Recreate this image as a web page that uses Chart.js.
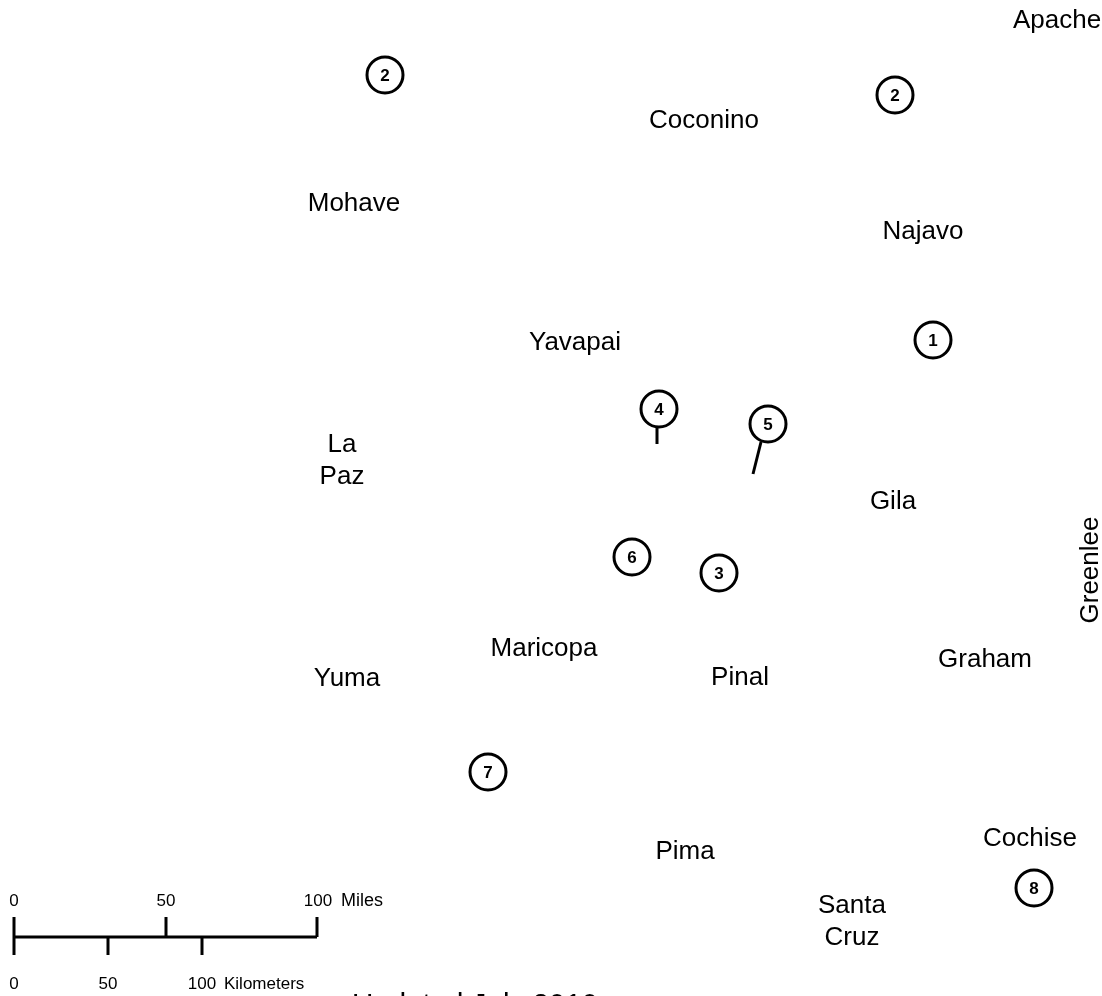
<!DOCTYPE html>
<html>
<head>
<meta charset="utf-8">
<title>Arizona counties</title>
<script src="https://cdn.jsdelivr.net/npm/chart.js@4"></script>
<style>
    html, body { margin: 0; padding: 0; background: #fff; overflow: hidden; }
    canvas { display: block; }
</style>
</head>
<body>
<canvas id="mapChart" width="1102" height="996"></canvas>
<script>
// County names
const countyNames = ['Apache', 'Coconino', 'Mohave', 'Najavo', 'Yavapai', 'La', 'Paz', 'Gila', 'Maricopa', 'Yuma', 'Pinal', 'Graham', 'Pima', 'Cochise', 'Santa', 'Cruz'];
const countyX = [1057, 704, 354, 923, 575, 342, 342, 893, 544, 347, 740, 985, 685, 1030, 852, 852];
const countyY = [21, 121, 204, 232, 343, 445, 477, 502, 649, 679, 678, 660, 852, 839, 906, 938];

// Numbered markers
const markerNumbers = ['2', '2', '1', '4', '5', '6', '3', '7', '8'];
const markerX = [385, 895, 933, 659, 768, 632, 719, 488, 1034];
const markerY = [75, 95, 340, 409, 424, 557, 573, 772, 888];

// Leader lines under markers 4 and 5
const leader4X = [657, 657];
const leader4Y = [427, 444];
const leader5X = [761, 753];
const leader5Y = [442, 474];

// Scale bar
const barX = [14, 317];
const barY = [937, 937];
const mileTickX = [14, 166, 317];
const mileLabels = ['0', '50', '100'];
const kmTickX = [14, 108, 202];
const kmLabels = ['0', '50', '100'];

function toPoints(xs, ys) {
    return xs.map((x, i) => ({ x: x, y: ys[i] }));
}

function lineDataset(points) {
    return {
        data: points,
        showLine: true,
        borderColor: '#000',
        borderWidth: 3,
        pointRadius: 0,
        fill: false
    };
}

const datasets = [
    {
        data: toPoints(markerX, markerY),
        showLine: false,
        pointStyle: 'circle',
        pointRadius: 18,
        pointBackgroundColor: '#fff',
        pointBorderColor: '#000',
        pointBorderWidth: 3
    },
    lineDataset(toPoints(leader4X, leader4Y)),
    lineDataset(toPoints(leader5X, leader5Y)),
    lineDataset(toPoints(barX, barY))
];
mileTickX.forEach(x => datasets.push(lineDataset([{ x: x, y: 917 }, { x: x, y: 937 }])));
kmTickX.forEach(x => datasets.push(lineDataset([{ x: x, y: 937 }, { x: x, y: 955 }])));

// All text goes through the chart's own scales
const textPlugin = {
    id: 'mapText',
    afterDatasetsDraw(chart) {
        const c = chart.ctx;
        const sx = chart.scales.x;
        const sy = chart.scales.y;
        const put = (text, x, y, font, align) => {
            c.font = font;
            c.textAlign = align || 'center';
            c.fillText(text, sx.getPixelForValue(x), sy.getPixelForValue(y));
        };
        c.save();
        c.fillStyle = '#000';
        c.textBaseline = 'middle';

        const nameFont = '26px "Liberation Sans"';
        countyNames.forEach((n, i) => put(n, countyX[i], countyY[i], nameFont));

        // Greenlee runs up the right edge
        c.save();
        c.translate(sx.getPixelForValue(1091), sy.getPixelForValue(570));
        c.rotate(-Math.PI / 2);
        c.font = '26px "Liberation Sans"';
        c.textAlign = 'center';
        c.fillText('Greenlee', 0, 0);
        c.restore();

        const numFont = 'bold 17px "Liberation Sans"';
        markerNumbers.forEach((n, i) => put(n, markerX[i], markerY[i] + 1, numFont));

        const smallFont = '17px "Liberation Sans"';
        mileLabels.forEach((n, i) => put(n, mileTickX[i] + (i === 2 ? 1 : 0), 901, smallFont));
        put('Miles', 341, 901, '18px "Liberation Sans"', 'left');
        kmLabels.forEach((n, i) => put(n, kmTickX[i], 984, smallFont));
        put('Kilometers', 224, 984, smallFont, 'left');

        put('Updated July 2010', 475, 1006, '29.5px "Liberation Sans"');
        c.restore();
    }
};

new Chart(document.getElementById('mapChart'), {
    type: 'scatter',
    data: { datasets: datasets },
    options: {
        responsive: false,
        animation: false,
        devicePixelRatio: 1,
        layout: { padding: 0, autoPadding: false },
        plugins: {
            legend: { display: false },
            tooltip: { enabled: false }
        },
        scales: {
            x: { type: 'linear', display: false, min: 0, max: 1102 },
            y: { type: 'linear', display: false, min: 0, max: 996, reverse: true }
        }
    },
    plugins: [textPlugin]
});
</script>
</body>
</html>
